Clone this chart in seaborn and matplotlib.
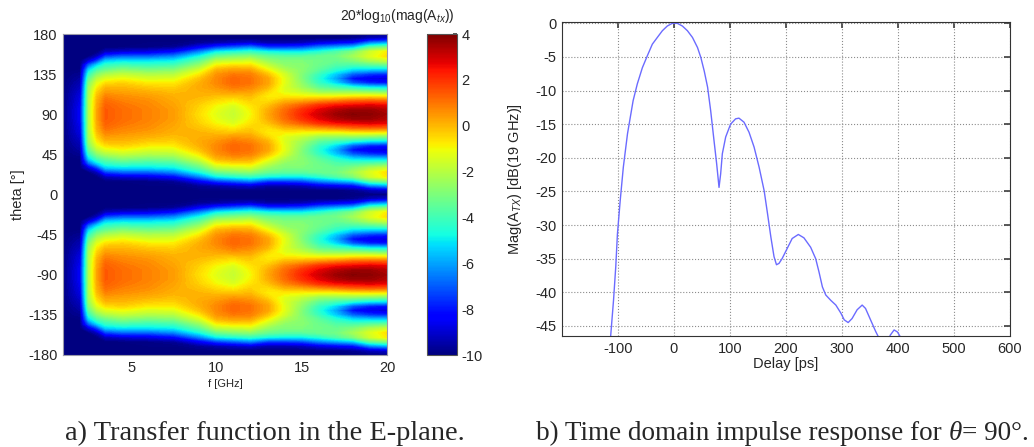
import numpy as np
import pandas as pd
import matplotlib
matplotlib.use("Agg")
import matplotlib.pyplot as plt
import seaborn as sns

# ---------------- Panel a: transfer function in the E-plane (dB) ----------------
freq_ghz = [1, 2, 2.5, 3, 3.5, 4.5, 6, 7.5, 9, 10, 11, 12, 13, 14, 15, 16, 17, 18, 19, 20]
# angular offset from the lobe centre (theta = +/-90 deg); the pattern is mirror-symmetric
offset_deg = [0, 5, 10, 15, 20, 25, 30, 35, 40, 45, 50, 55, 60, 65, 70, 75, 80, 85, 90]
theta_deg = list(range(-180, 181, 5))

db_f1   = [-10, -10, -10, -10, -10, -10, -10, -10, -10, -10, -10, -10, -10, -10, -10, -10, -10, -10, -10]
db_f2   = [-8.5, -8.5, -8.6, -8.7, -8.8, -9.0, -9.2, -9.4, -9.6, -9.8, -10, -10, -10, -10, -10, -10, -10, -10, -10]
db_f2_5 = [-2.2, -2.2, -2.2, -2.2, -2.3, -2.4, -2.6, -3.0, -3.6, -4.4, -5.4, -7.0, -9.0, -10, -10, -10, -10, -10, -10]
db_f3   = [0.3, 0.3, 0.2, 0.1, -0.1, -0.4, -0.8, -1.3, -2.0, -2.9, -4.0, -5.3, -7.5, -9.3, -10, -10, -10, -10, -10]
db_f3_5 = [1.4, 1.4, 1.3, 1.1, 0.8, 0.4, 0.0, -0.6, -1.4, -2.3, -3.4, -4.3, -5.5, -7.5, -9.3, -10, -10, -10, -10]
db_f4_5 = [1.1, 1.1, 1.0, 0.8, 0.6, 0.3, 0.0, -0.4, -1.1, -1.9, -2.9, -4.0, -5.2, -7.0, -9.0, -10, -10, -10, -10]
db_f6   = [0.8, 0.8, 0.7, 0.6, 0.4, 0.1, -0.3, -0.8, -1.5, -2.2, -3.2, -4.2, -5.2, -7.0, -8.8, -9.9, -10, -10, -10]
db_f7_5 = [0.4, 0.4, 0.3, 0.2, 0.1, -0.1, -0.4, -0.8, -1.4, -2.1, -3.0, -4.0, -5.0, -6.5, -8.3, -9.7, -10, -10, -10]
db_f9   = [-0.6, -0.5, -0.4, -0.2, 0.0, 0.1, 0.2, 0.1, -0.2, -0.8, -1.6, -2.6, -3.6, -4.8, -6.5, -8.5, -9.7, -10, -10]
db_f10  = [-1.3, -1.2, -1.0, -0.6, -0.2, 0.2, 0.5, 0.7, 0.7, 0.5, 0.0, -0.9, -2.0, -3.4, -5.0, -7.5, -9.5, -10, -10]
db_f11  = [-1.8, -1.7, -1.4, -0.9, -0.3, 0.4, 0.9, 1.2, 1.2, 0.9, 0.3, -0.6, -1.8, -3.0, -4.6, -7.0, -9.2, -10, -10]
db_f12  = [-1.0, -0.9, -0.7, -0.4, -0.1, 0.3, 0.7, 1.0, 1.0, 0.8, 0.2, -0.6, -1.6, -2.8, -4.3, -6.5, -9.0, -10, -10]
db_f13  = [0.2, 0.1, -0.2, -0.6, -0.8, -0.5, 0.0, 0.3, 0.3, -0.2, -1.0, -1.8, -2.6, -3.4, -4.8, -7.5, -9.5, -10, -10]
db_f14  = [1.2, 1.1, 0.7, 0.0, -0.8, -1.3, -1.4, -1.3, -1.3, -1.6, -2.2, -2.7, -3.0, -3.6, -5.0, -7.5, -9.5, -10, -10]
db_f15  = [2.2, 2.0, 1.3, 0.2, -0.9, -1.8, -2.4, -2.7, -2.9, -2.9, -2.8, -2.8, -3.0, -3.6, -5.0, -7.3, -9.3, -10, -10]
db_f16  = [3.0, 2.7, 2.0, 0.5, -1.0, -2.5, -3.5, -4.2, -4.5, -4.2, -3.6, -3.3, -3.2, -3.4, -4.5, -6.5, -8.8, -10, -10]
db_f17  = [3.6, 3.3, 2.4, 0.8, -1.0, -2.6, -4.0, -5.3, -6.0, -5.5, -4.5, -3.8, -3.4, -3.2, -3.8, -6.0, -8.5, -10, -10]
db_f18  = [3.9, 3.6, 2.6, 1.2, -0.8, -2.6, -4.5, -7.0, -8.2, -7.0, -5.3, -4.0, -3.0, -2.4, -3.0, -5.5, -8.2, -9.8, -10]
db_f19  = [3.8, 3.6, 2.8, 1.3, -0.7, -2.8, -5.0, -7.8, -8.8, -7.6, -5.5, -3.8, -2.3, -1.4, -1.6, -3.6, -6.5, -9.3, -10]
db_f20  = [3.5, 3.3, 2.6, 1.2, -0.8, -3.0, -5.2, -8.0, -9.0, -7.8, -5.6, -3.6, -1.8, -0.6, -0.8, -3.0, -6.0, -9.0, -10]

cbar_ticks = [-10, -8, -6, -4, -2, 0, 2, 4]
theta_ticks = [-180, -135, -90, -45, 0, 45, 90, 135, 180]
f_ticks = [5, 10, 15, 20]

# ---------------- Panel b: impulse response at theta = 90 deg ----------------
delay_ps = [-118, -113, -108, -104, -101, -96, -90.5, -83, -73, -65.5, -56.5, -47.5, -38.7, -29.8,
            -20.8, -12, -3, 6, 15, 24, 33, 42, 48, 54, 60, 65.5, 71.4, 76.2, 80.4, 83.3, 86.3,
            92.3, 101, 110, 116, 125, 134, 143, 152, 161, 167, 173, 178.6, 183, 187.5, 193, 202,
            211, 222, 232, 244, 253, 259, 265, 271, 280, 289, 298, 304, 311, 318, 327, 336, 342,
            351, 360, 366, 375, 383, 386, 393, 399, 404, 410]
mag_db = [-52, -46.4, -41.2, -36.2, -31.3, -26.3, -21.4, -16.4, -11.5, -9.0, -6.6, -4.8, -3.1, -2.1,
          -1.1, -0.4, 0.0, 0.0, -0.4, -1.1, -2.1, -3.6, -5.1, -7.1, -9.5, -13.0, -17.4, -20.9, -24.4,
          -22.4, -19.4, -16.9, -15.0, -14.2, -14.1, -14.7, -16.2, -18.4, -21.4, -24.9, -28.3, -31.8,
          -34.7, -35.9, -35.7, -35.0, -33.5, -32.0, -31.4, -31.9, -33.3, -35.0, -37.0, -39.2, -40.4,
          -41.2, -41.9, -43.1, -44.1, -44.5, -43.9, -42.6, -41.9, -42.4, -44.1, -45.8, -46.8, -48.5,
          -47.5, -46.4, -45.6, -45.9, -46.6, -48.0]
delay_ticks = [-100, 0, 100, 200, 300, 400, 500, 600]
mag_ticks = [0, -5, -10, -15, -20, -25, -30, -35, -40, -45]

# ---------------- styling ----------------
sns.set_theme(style="white")
plt.rcParams["font.family"] = ["Liberation Sans", "DejaVu Sans"]
plt.rcParams["mathtext.fontset"] = "custom"
plt.rcParams["mathtext.rm"] = "Liberation Sans"
plt.rcParams["mathtext.it"] = "Liberation Sans:italic"
plt.rcParams["xtick.direction"] = "in"
plt.rcParams["ytick.direction"] = "in"
plt.rcParams["axes.unicode_minus"] = False

W, H = 1034, 447
fig = plt.figure(figsize=(W / 100, H / 100), dpi=100)
fig.patch.set_facecolor("white")

def rect(x0, y0, x1, y1):
    return [x0 / W, 1 - y1 / H, (x1 - x0) / W, (y1 - y0) / H]

tick_fs = 10.5

# ---- heat map ----
ax1 = fig.add_axes(rect(63, 34, 387, 355))
cols = [db_f1, db_f2, db_f2_5, db_f3, db_f3_5, db_f4_5, db_f6, db_f7_5, db_f9, db_f10,
        db_f11, db_f12, db_f13, db_f14, db_f15, db_f16, db_f17, db_f18, db_f19, db_f20]
half = np.array(cols).T  # rows: offset, cols: frequency
row_index = [offset_deg.index(abs(abs(t) - 90)) for t in theta_deg]
Z = half[row_index, :]
levels = np.linspace(-10, 4, 113)
cf = ax1.contourf(freq_ghz, theta_deg, Z, levels=levels, cmap="jet", vmin=-10, vmax=4,
                  extend="both", antialiased=False)
ax1.set_xlim(1, 20)
ax1.set_ylim(-180, 180)
ax1.set_xticks(f_ticks)
ax1.set_yticks(theta_ticks)
ax1.tick_params(labelsize=tick_fs, length=3, color="#444444", pad=4)
ax1.set_xlabel("f [GHz]", fontsize=8, labelpad=3)
ax1.set_ylabel("theta [°]", fontsize=10.5, labelpad=2)
for s in ax1.spines.values():
    s.set_color("#9a9aaa")
    s.set_linewidth(0.8)

cax = fig.add_axes(rect(427, 34, 457, 355))
sm = matplotlib.cm.ScalarMappable(norm=matplotlib.colors.Normalize(-10, 4), cmap="jet")
cb = fig.colorbar(sm, cax=cax, ticks=cbar_ticks)
cb.ax.tick_params(labelsize=tick_fs, length=3, direction="in", color="#444444", pad=3)
cb.outline.set_edgecolor("#555555")
cb.outline.set_linewidth(0.8)
fig.text(397 / W, 1 - 16 / H, "20*log$_{10}$(mag(A$_{tx}$))", ha="center", va="center",
         fontsize=10)

# ---- impulse response ----
ax2 = fig.add_axes(rect(562, 22, 1010, 336))
df = pd.DataFrame({"Delay [ps]": delay_ps, "mag": mag_db})
sns.lineplot(data=df, x="Delay [ps]", y="mag", ax=ax2, color="#6b6bff", linewidth=1.0,
             sort=False, estimator=None)
ax2.set_xlim(-200, 600)
ax2.set_ylim(-46.5, 0.2)
ax2.set_xticks(delay_ticks)
ax2.set_yticks(mag_ticks)
ax2.grid(True, linestyle=":", color="#8c8c8c", linewidth=0.8)
ax2.tick_params(labelsize=tick_fs, length=4, color="#444444", pad=4, top=True, right=True)
ax2.set_xlabel("Delay [ps]", fontsize=10.5, labelpad=1)
ax2.set_ylabel("Mag(A$_{TX}$) [dB(19 GHz)]", fontsize=10.5, labelpad=8)
for s in ax2.spines.values():
    s.set_color("#333333")
    s.set_linewidth(0.8)

# ---- captions ----
cap_kw = dict(family="Liberation Serif", va="center")
fig.text(265 / W, 1 - 433 / H, "a) Transfer function in the E-plane.", ha="center",
         fontsize=20.5, **cap_kw)
t1 = fig.text(536 / W, 1 - 433 / H, "b) Time domain impulse response for ", ha="left",
              fontsize=19.5, **cap_kw)
fig.canvas.draw()
bb = t1.get_window_extent()
t2 = fig.text(bb.x1 / W, 1 - 433 / H, "θ", ha="left", style="italic", fontsize=19.5, **cap_kw)
fig.canvas.draw()
bb2 = t2.get_window_extent()
fig.text(bb2.x1 / W, 1 - 433 / H, "= 90°.", ha="left", fontsize=19.5, **cap_kw)

fig.savefig("out.png", dpi=100, facecolor="white")
